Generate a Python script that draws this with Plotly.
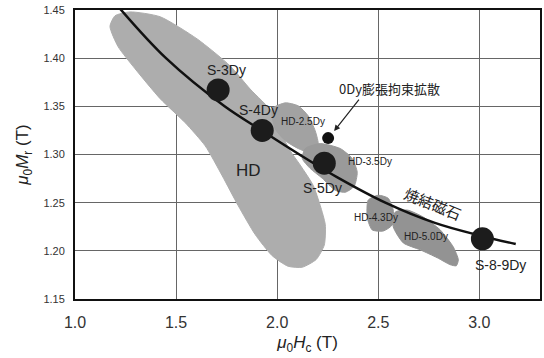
import plotly.graph_objects as go

# ---- data ----
# Sintered-magnet trend curve (mu0Hc, mu0Mr)
curve_hc = [1.22, 1.45, 1.74, 1.93, 2.11, 2.30, 2.535, 2.78, 3.00, 3.18]
curve_mr = [1.452, 1.400, 1.350, 1.324, 1.300, 1.276, 1.250, 1.229, 1.216, 1.207]

# Sintered samples
sample_names = ["S-3Dy", "S-4Dy", "S-5Dy", "S-8-9Dy"]
sample_hc = [1.708, 1.926, 2.233, 3.015]
sample_mr = [1.367, 1.325, 1.291, 1.2125]

# 0Dy expansion-restrained diffusion sample
zero_hc = [2.252]
zero_mr = [1.3170]

# HD regions (outlines)
hd_hc = [1.173, 1.213, 1.297, 1.421, 1.545, 1.644, 1.728, 1.807, 1.891, 1.975, 2.054, 2.124,
         2.193, 2.233, 2.238, 2.213, 2.178, 2.114, 2.064, 2.025, 1.980, 1.866, 1.767,
         1.604, 1.421, 1.272, 1.198]
hd_mr = [1.433, 1.412, 1.389, 1.358, 1.333, 1.309, 1.278, 1.247, 1.217, 1.195, 1.184, 1.183,
         1.191, 1.206, 1.227, 1.247, 1.268, 1.289, 1.304, 1.320, 1.343, 1.368, 1.392,
         1.420, 1.443, 1.448, 1.444]

hd25_hc = [1.975, 2.040, 2.104, 2.153, 2.188, 2.203, 2.163, 2.104, 2.040, 1.990]
hd25_mr = [1.3474, 1.3536, 1.3505, 1.3402, 1.3247, 1.3093, 1.3021, 1.3062, 1.3144, 1.3268]

hd35_hc = [2.139, 2.213, 2.312, 2.371, 2.396, 2.381, 2.337, 2.287, 2.223, 2.163, 2.124]
hd35_mr = [1.3062, 1.3113, 1.3062, 1.2959, 1.2815, 1.2670, 1.2608, 1.2629, 1.2753, 1.2856, 1.2959]

hd43_hc = [2.450, 2.500, 2.549, 2.574, 2.569, 2.525, 2.470, 2.446]
hd43_mr = [1.2526, 1.2577, 1.2546, 1.2423, 1.2268, 1.2206, 1.2217, 1.2340]

hd50_hc = [2.584, 2.644, 2.723, 2.807, 2.871, 2.896, 2.886, 2.856, 2.792, 2.708, 2.624, 2.574]
hd50_mr = [1.2402, 1.2423, 1.2350, 1.2216, 1.2041, 1.1907, 1.1845, 1.1856, 1.1928, 1.2010,
           1.2082, 1.2250]

x_ticks = [1.0, 1.5, 2.0, 2.5, 3.0]
x_ticktext = ["1.0", "1.5", "2.0", "2.5", "3.0"]
y_ticks = [1.15, 1.20, 1.25, 1.30, 1.35, 1.40, 1.45]
y_ticktext = ["1.15", "1.20", "1.25", "1.30", "1.35", "1.40", "1.45"]

# ---- figure ----
fig = go.Figure()

def blob(xs, ys, color):
    fig.add_trace(go.Scatter(x=xs + xs[:1], y=ys + ys[:1], mode="lines", fill="toself",
                             fillcolor=color, line=dict(color=color, width=1, shape="spline",
                                                        smoothing=0.6),
                             hoverinfo="skip", showlegend=False))

blob(hd_hc, hd_mr, "#adadad")
blob(hd25_hc, hd25_mr, "#a2a2a2")
blob(hd35_hc, hd35_mr, "#9a9a9a")
blob(hd43_hc, hd43_mr, "#939393")
blob(hd50_hc, hd50_mr, "#939393")

fig.add_trace(go.Scatter(x=curve_hc, y=curve_mr, mode="lines",
                         line=dict(color="#111111", width=2.5, shape="spline"),
                         showlegend=False, hoverinfo="skip"))

fig.add_trace(go.Scatter(x=sample_hc, y=sample_mr, mode="markers",
                         marker=dict(size=23, color="#1c1c1c"),
                         showlegend=False))
fig.add_trace(go.Scatter(x=zero_hc, y=zero_mr, mode="markers",
                         marker=dict(size=12, color="#111111"),
                         showlegend=False))

lab_font = dict(family="Liberation Sans, Arial, sans-serif", size=14, color="#222222")
small_font = dict(family="Liberation Sans, Arial, sans-serif", size=10, color="#222222")
cjk_font = dict(family="Noto Sans CJK JP, sans-serif", size=13, color="#222222")

shifts = [(8, 20), (-4, 20), (-2, -25), (18, -26)]
for name, hx, my, (dx, dy) in zip(sample_names, sample_hc, sample_mr, shifts):
    fig.add_annotation(x=hx, y=my, text=name, showarrow=False, xshift=dx, yshift=dy,
                       font=lab_font)

fig.add_annotation(x=1.856, y=1.2835, text="HD", showarrow=False,
                   font=dict(family="Liberation Sans, Arial, sans-serif", size=17,
                             color="#222222"))
fig.add_annotation(x=2.129, y=1.334, text="HD-2.5Dy", showarrow=False, font=small_font)
fig.add_annotation(x=2.460, y=1.2928, text="HD-3.5Dy", showarrow=False, font=small_font)
fig.add_annotation(x=2.490, y=1.235, text="HD-4.3Dy", showarrow=False, font=small_font)
fig.add_annotation(x=2.738, y=1.2145, text="HD-5.0Dy", showarrow=False, font=small_font)
fig.add_annotation(x=2.772, y=1.2495, text="焼結磁石", showarrow=False, textangle=22,
                   font=dict(family="Noto Sans CJK JP, sans-serif", size=15, color="#222222"))

fig.add_annotation(x=zero_hc[0], y=zero_mr[0], xshift=6, yshift=7, text="",
                   showarrow=True, arrowhead=2, arrowsize=1, arrowwidth=1.2,
                   arrowcolor="#222222", ax=26, ay=-33)
fig.add_annotation(x=2.554, y=1.368, text="0Dy膨張拘束拡散", showarrow=False, font=cjk_font)

axis_common = dict(showgrid=True, gridcolor="#666666", gridwidth=1, zeroline=False,
                   showline=True, linecolor="#111111", linewidth=2, mirror=True,
                   ticks="")

fig.update_xaxes(range=[1.0, 3.30], tickvals=x_ticks, ticktext=x_ticktext,
                 tickfont=dict(family="Liberation Sans, Arial, sans-serif", size=16,
                               color="#333333"),
                 ticklabelstandoff=8,
                 title=dict(text="<i>μ</i><sub>0</sub><i>H</i><sub>c</sub> (T)",
                            font=dict(family="Liberation Sans, Arial, sans-serif", size=17,
                                      color="#222222"), standoff=6),
                 **axis_common)
fig.update_yaxes(range=[1.15, 1.45], tickvals=y_ticks, ticktext=y_ticktext,
                 tickfont=dict(family="Liberation Sans, Arial, sans-serif", size=11,
                               color="#333333"),
                 ticklabelstandoff=6,
                 title=dict(text="<i>μ</i><sub>0</sub><i>M</i><sub>r</sub> (T)",
                            font=dict(family="Liberation Sans, Arial, sans-serif", size=17,
                                      color="#222222"), standoff=10),
                 **axis_common)

fig.update_layout(width=544, height=358, margin=dict(l=75, r=4, t=10, b=59, autoexpand=False),
                  plot_bgcolor="white", paper_bgcolor="white", showlegend=False)

fig.write_html("out.html")
